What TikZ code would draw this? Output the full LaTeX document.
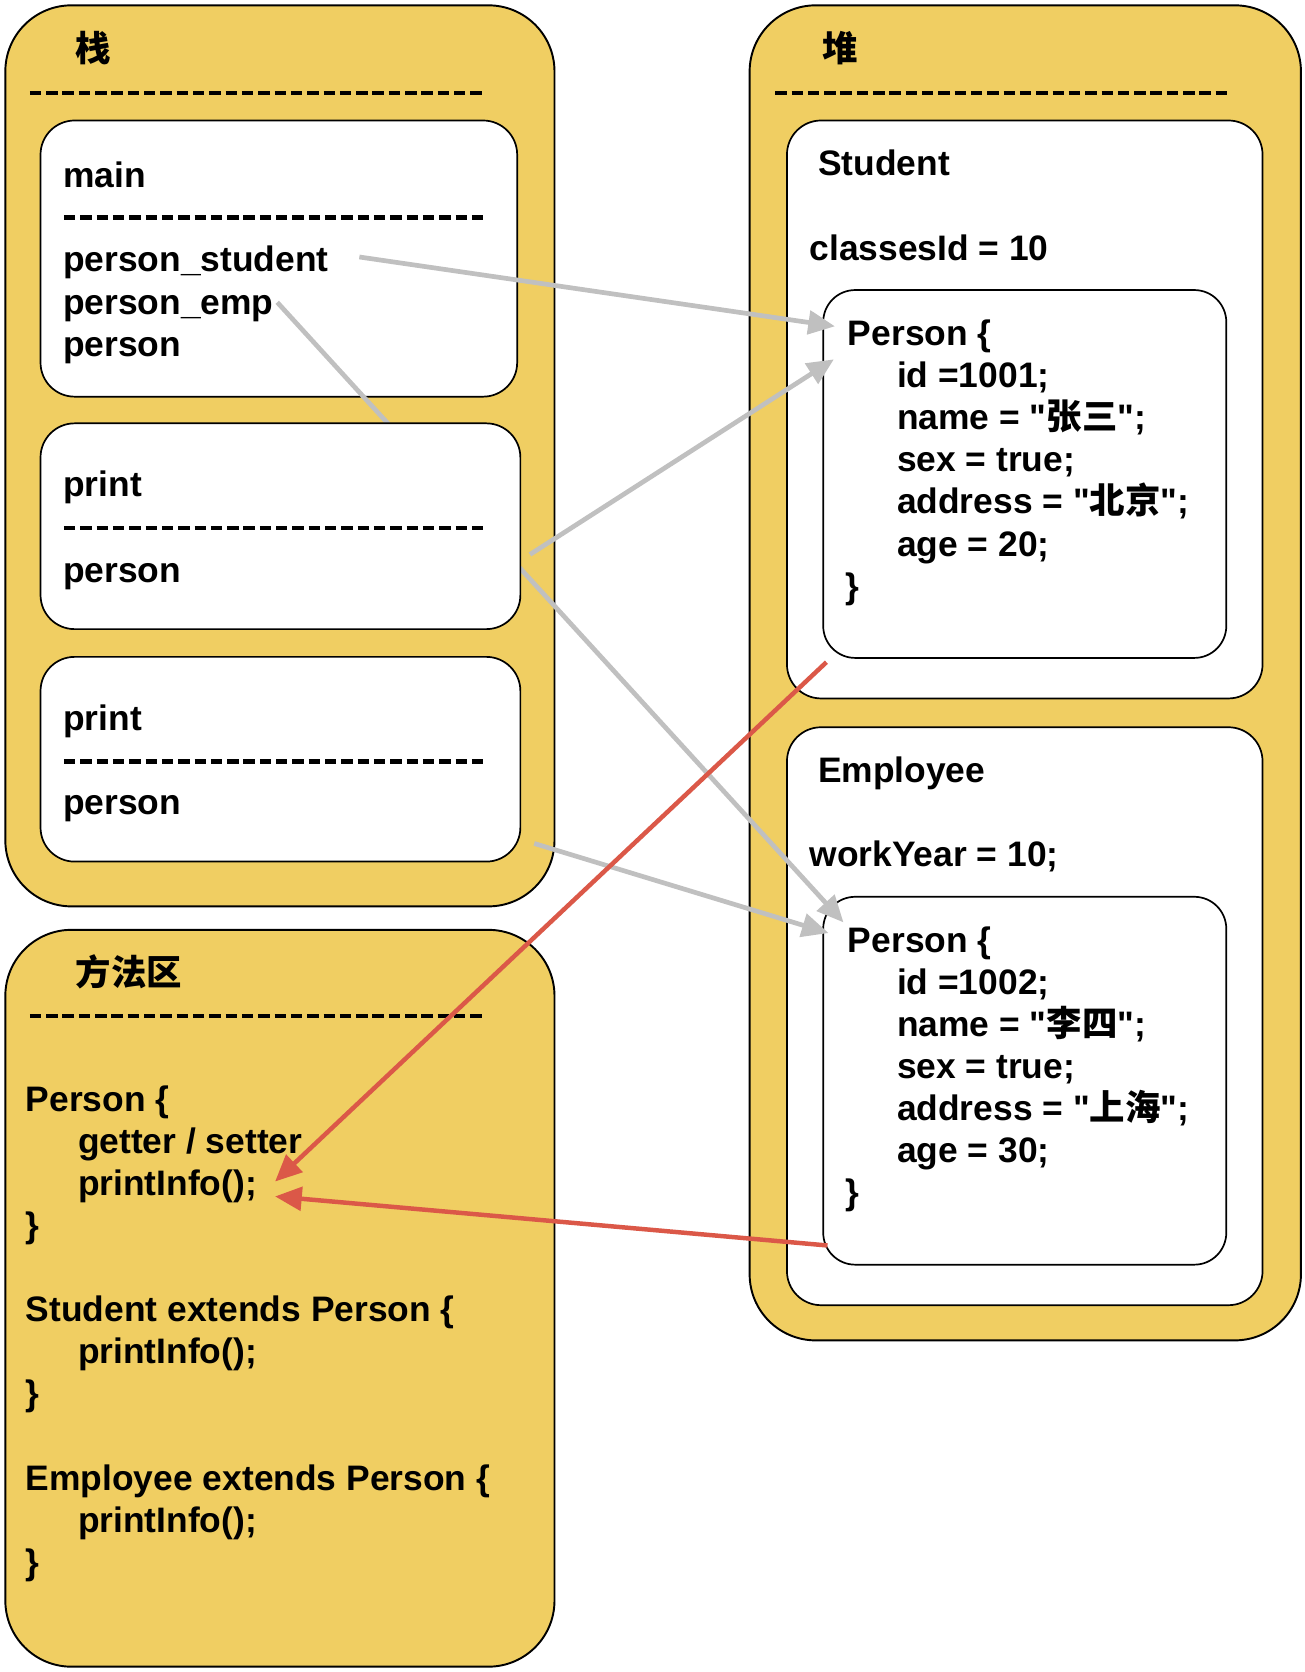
\documentclass[tikz,border=0pt]{standalone}
\usepackage{fontspec}
\setmainfont{Liberation Sans}[Ligatures=TeXOff]
\newfontfamily\cjk{Noto Sans CJK SC}
\usetikzlibrary{arrows.meta, positioning, calc}
\definecolor{areayellow}{RGB}{240, 206, 98}
\definecolor{refgray}{RGB}{192, 192, 192}
\definecolor{callred}{RGB}{219, 88, 72}
\newcommand{\qt}{\char34}

\tikzset{
  areabox/.style={draw, line width=1.8pt, fill=areayellow, rounded corners=62pt,
    anchor=north west, inner sep=0pt, outer sep=0pt},
  membox/.style={draw, line width=1.6pt, fill=white, rounded corners=32pt,
    anchor=north west, inner sep=0pt, outer sep=0pt},
  txt/.style={anchor=base west, inner sep=0pt, font=\fontsize{33.2}{39.5}\selectfont\bfseries},
  dashline/.style={line width=4.2pt, dash pattern=on 10.7pt off 4.6pt},
  refline/.style={refgray, line width=4.4pt, -{Triangle[length=25pt, width=22pt]}},
  callline/.style={callred, line width=4.2pt, -{Triangle[length=25pt, width=22pt]}},
}

\begin{document}
\begin{tikzpicture}[x=1pt, y=-1pt]
  \fill[white, use as bounding box] (0,0) rectangle (1223,1568);

  % three memory areas
  \node[areabox, minimum width=515, minimum height=845] (stack) at (5,5) {};
  \node[areabox, minimum width=517, minimum height=1252] (heap) at (703,5) {};
  \node[areabox, minimum width=515, minimum height=691] (method) at (5,872) {};

  % heap
  \node[txt] (heapT) at (771,57.5) {\cjk 堆};
  \draw[dashline] (727,87) -- (1152,87);
  \begin{scope}
    \node[membox, minimum width=446, minimum height=542] (stu) at (738,113) {};
    \node[txt] (stuT) at (767,165) {Student};
    \node[txt] (stuC) at (759,244) {classesId = 10};
    \node[membox, rounded corners=30pt, minimum width=378, minimum height=345] (stuP) at (772,272) {};
    \node[txt] (stuP0) at (795,324) {Person \{};
    \foreach \t [count=\i] in {{id =1001;}, {name = \qt{\cjk 张三}\qt;}, {sex = true;},
        {address = \qt{\cjk 北京}\qt;}, {age = 20;}}
      \node[txt] (sf\i) at (841,324+39.5*\i) {\t};
    \node[txt] (stuP6) at (793,561) {\}};
  \end{scope}
  \begin{scope}
    \node[membox, minimum width=446, minimum height=542] (emp) at (738,682) {};
    \node[txt] (empT) at (767,734) {Employee};
    \node[txt] (empW) at (759,813) {workYear = 10;};
    \node[membox, rounded corners=30pt, minimum width=378, minimum height=345] (empP) at (772,841) {};
    \node[txt] (empP0) at (795,893) {Person \{};
    \foreach \t [count=\i] in {{id =1002;}, {name = \qt{\cjk 李四}\qt;}, {sex = true;},
        {address = \qt{\cjk 上海}\qt;}, {age = 30;}}
      \node[txt] (ef\i) at (841,893+39.5*\i) {\t};
    \node[txt] (empP6) at (793,1130) {\}};
  \end{scope}

  % stack
  \node[txt] (stackT) at (71,57.5) {\cjk 栈};
  \draw[dashline] (28,87) -- (452,87);
  \node[membox, minimum width=447, minimum height=259] (mainF) at (38,113) {};
  \node[txt] (mainT) at (59,176) {main};
  \draw[dashline] (60,204) -- (455,204);
  \node[txt] (pstu) at (59,255) {person\_student};
  \node[txt] (pemp) at (59,294.5) {person\_emp};
  \node[txt] (pmain) at (59,334) {person};

  % runs under the first print frame
  \draw[refline] ([shift={(201,-11)}]pemp.base west) -- ([shift={(19,24)}]empP.north west);

  \node[membox, minimum width=450, minimum height=193] (prt1) at (38,397) {};
  \node[txt] (prt1T) at (59,466) {print};
  \draw[dashline] (60,495) -- (455,495);
  \node[txt] (prt1V) at (59,546) {person};
  \node[membox, minimum width=450, minimum height=192] (prt2) at (38,616) {};
  \node[txt] (prt2T) at (59,685) {print};
  \draw[dashline] (60,714) -- (455,714);
  \node[txt] (prt2V) at (59,764) {person};

  % method area
  \node[txt] (methT) at (71,924.5) {\cjk 方法区};
  \draw[dashline] (28,953) -- (452,953);
  \node[txt] (m0) at (24,1042) {Person \{};
  \node[txt] (m1) at (73,1081.5) {getter / setter};
  \node[txt] (info) at (73,1121) {printInfo();};
  \node[txt] (m3) at (24,1160.5) {\}};
  \node[txt] (m5) at (24,1239.5) {Student extends Person \{};
  \node[txt] (m6) at (73,1279) {printInfo();};
  \node[txt] (m7) at (24,1318.5) {\}};
  \node[txt] (m9) at (24,1397.5) {Employee extends Person \{};
  \node[txt] (m10) at (73,1437) {printInfo();};
  \node[txt] (m11) at (24,1476.5) {\}};

  % references
  \draw[refline] ([shift={(278,-14)}]pstu.base west) -- ([shift={(11,34)}]stuP.north west);
  \draw[refline] ([shift={(9,-70)}]prt1.south east) -- ([shift={(10,65)}]stuP.north west);
  \draw[refline] ([shift={(13,-17)}]prt2.south east) -- ([shift={(5,34)}]empP.north west);
  \draw[callline] ([shift={(3,4)}]stuP.south west) -- ([shift={(185,-13)}]info.base west);
  \draw[callline] ([shift={(4,-18)}]empP.south west) -- ([shift={(185,1)}]info.base west);
\end{tikzpicture}
\end{document}
